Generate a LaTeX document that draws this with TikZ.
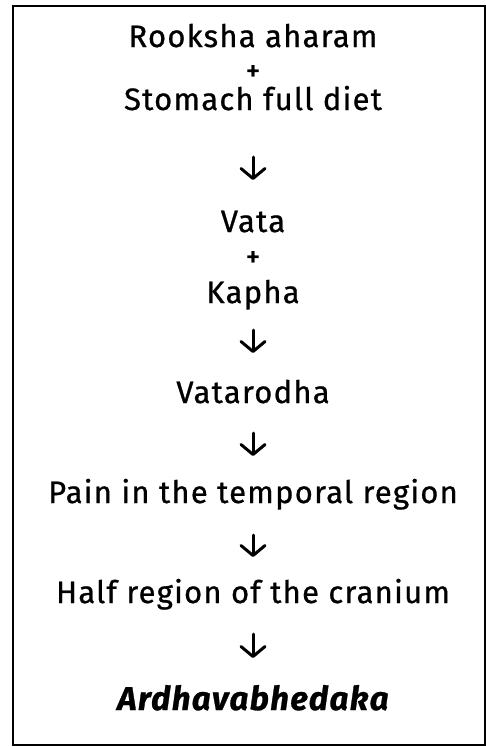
\documentclass[tikz,border=0pt]{standalone}
\usepackage{fontspec}
\setmainfont{Fira Sans}[LetterSpace=4,FakeBold=0.8]
\usetikzlibrary{arrows.meta}
\begin{document}
\begin{tikzpicture}[x=1pt,y=-1pt,
  txt/.style={inner sep=0pt,anchor=base,font=\fontsize{31}{34}\selectfont},
  plus/.style={inner sep=0pt,anchor=center,font=\fontsize{30}{32}\selectfont},
  arr/.style={line width=3pt,line cap=round,-{Straight Barb[length=10pt,width=24pt,line width=3pt,round]}},
  frame/.style={line width=1.6pt}]
\useasboundingbox (0,0) rectangle (486,747);
\draw[frame] (13,6) -- (485,6) -- (485,745) -- (13,745) -- cycle;
\def\cx{253}
\node[txt] (r1) at (\cx,47) {Rooksha aharam};
\node[plus] (p1) at (\cx,73) {+};
\node[txt] (r2) at (\cx,110) {Stomach full diet};
\node[txt] (r3) at (\cx,232) {Vata};
\node[plus] (p2) at (\cx,259) {+};
\node[txt] (r4) at (\cx,303) {Kapha};
\node[txt] (r5) at (\cx,403) {Vatarodha};
\node[txt] (r6) at (\cx,503) {Pain in the temporal region};
\node[txt] (r7) at (\cx,603) {Half region of the cranium};
\node[txt,font=\fontsize{33}{36}\selectfont\bfseries\itshape] (r8) at (\cx,710) {Ardhavabhedaka};
\coordinate (a1s) at (\cx,157); \coordinate (a1e) at (\cx,180);
\coordinate (a2s) at (\cx,330); \coordinate (a2e) at (\cx,353);
\coordinate (a3s) at (\cx,433); \coordinate (a3e) at (\cx,456);
\coordinate (a4s) at (\cx,535); \coordinate (a4e) at (\cx,557);
\coordinate (a5s) at (\cx,634); \coordinate (a5e) at (\cx,658);
\draw[arr] (a1s) -- (a1e);
\draw[arr] (a2s) -- (a2e);
\draw[arr] (a3s) -- (a3e);
\draw[arr] (a4s) -- (a4e);
\draw[arr] (a5s) -- (a5e);
\end{tikzpicture}
\end{document}
